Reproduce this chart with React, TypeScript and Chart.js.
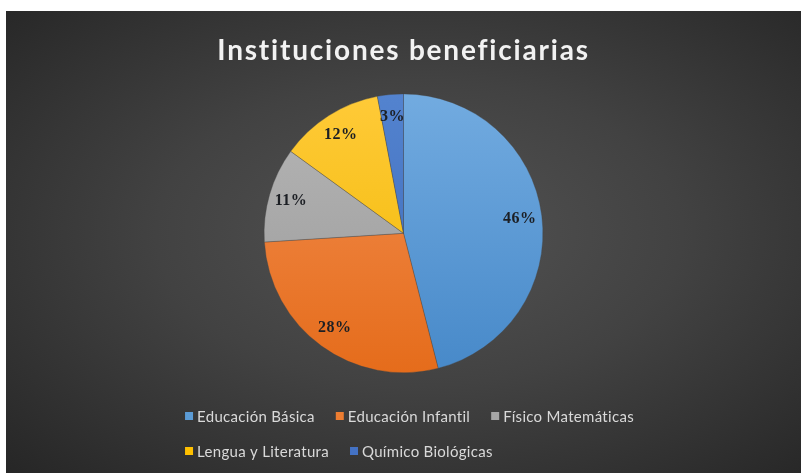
import React, { useEffect, useRef } from "react";
import { Chart, registerables } from "chart.js";

Chart.register(...registerables);

const titleText = "Instituciones beneficiarias";
const categories = [
  "Educación Básica",
  "Educación Infantil",
  "Físico Matemáticas",
  "Lengua y Literatura",
  "Químico Biológicas",
];
const values = [46, 28, 11, 12, 3];
const colorsTop = ["#72abe0", "#f38f52", "#b6b6b6", "#ffca38", "#5383cf"];
const colorsBottom = ["#4789c9", "#e56c1b", "#999999", "#f0b800", "#3c69b8"];
const legendColors = ["#5b9bd5", "#ed7d31", "#a5a5a5", "#ffc000", "#4472c4"];

const spacingPlugin = {
  id: "titleSpacing",
  beforeDraw(chart: any) {
    (chart.ctx as any).letterSpacing = "1.8px";
  },
  beforeDatasetsDraw(chart: any) {
    (chart.ctx as any).letterSpacing = "0px";
  },
};

const labelPlugin = {
  id: "sliceLabels",
  afterDatasetsDraw(chart: any) {
    const ctx = chart.ctx;
    const meta = chart.getDatasetMeta(0);
    const data = chart.data.datasets[0].data as number[];
    const total = data.reduce((a, b) => a + b, 0);
    ctx.save();
    ctx.font = "bold 16px 'Liberation Serif', 'Times New Roman', serif";
    ctx.fillStyle = "#1c1f24";
    ctx.textAlign = "center";
    ctx.textBaseline = "middle";
    (ctx as any).letterSpacing = "0.5px";
    meta.data.forEach((arc: any, i: number) => {
      const p = arc.getProps(["x", "y", "startAngle", "endAngle", "outerRadius"], true);
      const mid = (p.startAngle + p.endAngle) / 2;
      const r = p.outerRadius * 0.84;
      const txt = Math.round((data[i] / total) * 100) + "%";
      ctx.fillText(txt, p.x + Math.cos(mid) * r, p.y + Math.sin(mid) * r);
    });
    ctx.restore();
  },
};

const legendPlugin = {
  id: "customLegend",
  afterDraw(chart: any) {
    const ctx = chart.ctx;
    ctx.save();
    ctx.font = "15px Lato, 'Open Sans', sans-serif";
    (ctx as any).letterSpacing = "0.3px";
    ctx.textBaseline = "middle";
    ctx.textAlign = "left";
    const box = 8;
    const boxGap = 4;
    const itemGap = 21;
    const maxRow = 480;
    const items = categories.map((c, i) => ({
      text: c,
      color: legendColors[i],
      w: box + boxGap + ctx.measureText(c).width,
    }));
    const rows: any[][] = [[]];
    let rw = 0;
    items.forEach((it) => {
      const add = (rows[rows.length - 1].length ? itemGap : 0) + it.w;
      if (rw + add > maxRow && rows[rows.length - 1].length) {
        rows.push([it]);
        rw = it.w;
      } else {
        rows[rows.length - 1].push(it);
        rw += add;
      }
    });
    const rowWidths = rows.map((r) => r.reduce((s, it, k) => s + it.w + (k ? itemGap : 0), 0));
    const blockW = Math.max(...rowWidths);
    const left = chart.width / 2 + 6 - blockW / 2;
    const firstY = chart.height - 56;
    const rowH = 35;
    rows.forEach((row, ri) => {
      let x = left;
      const y = firstY + ri * rowH;
      row.forEach((it: any) => {
        ctx.fillStyle = it.color;
        ctx.fillRect(x, y - box / 2 - 1, box, box);
        ctx.fillStyle = "#d9d9d9";
        ctx.fillText(it.text, x + box + boxGap, y);
        x += it.w + itemGap;
      });
    });
    ctx.restore();
  },
};

export default function App() {
  const ref = useRef<HTMLCanvasElement | null>(null);
  useEffect(() => {
    if (!ref.current) return;
    const grad = (context: any) => {
      const i = context.dataIndex ?? 0;
      const chart = context.chart;
      const area = chart.chartArea;
      if (!area) return legendColors[i];
      const g = chart.ctx.createLinearGradient(0, area.top, 0, area.bottom);
      g.addColorStop(0, colorsTop[i]);
      g.addColorStop(1, colorsBottom[i]);
      return g;
    };
    const chart = new Chart(ref.current, {
      type: "pie",
      data: {
        labels: categories,
        datasets: [
          {
            data: values,
            backgroundColor: grad as any,
            borderColor: "rgba(70,70,70,0.6)",
            borderWidth: 0.6,
          },
        ],
      },
      options: {
        animation: false,
        responsive: true,
        maintainAspectRatio: false,
        layout: { padding: { top: 0, bottom: 100, left: 0, right: 0 } },
        plugins: {
          legend: { display: false },
          tooltip: { enabled: false },
          title: {
            display: true,
            text: titleText,
            color: "#f2f2f2",
            font: { family: "Lato, 'Open Sans', sans-serif", size: 28, weight: "bold" },
            padding: { top: 23, bottom: 26 },
          },
        },
      },
      plugins: [spacingPlugin, labelPlugin, legendPlugin],
    });
    return () => chart.destroy();
  }, []);
  return (
    <div
      style={{
        position: "absolute",
        left: 6,
        top: 11,
        width: 795,
        height: 462,
        background: "radial-gradient(ellipse farthest-corner at 52% 48%, #535353 0%, #424242 45%, #262626 100%)",
      }}
    >
      <canvas ref={ref} />
    </div>
  );
}
